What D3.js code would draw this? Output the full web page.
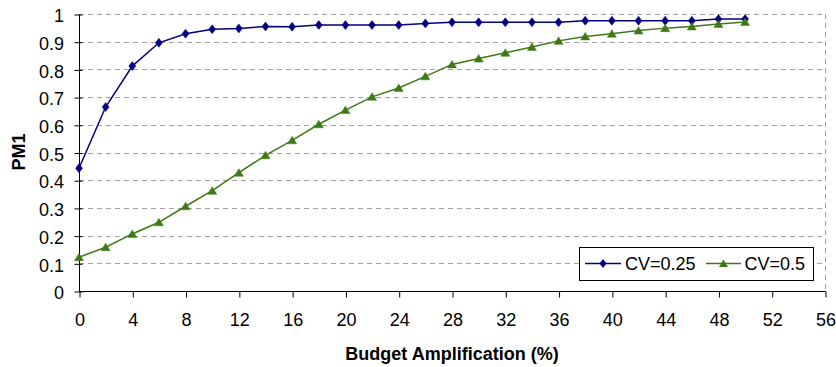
<!DOCTYPE html>
<html>
<head>
<meta charset="utf-8">
<script src="https://cdn.jsdelivr.net/npm/d3@7"></script>
<style>
  html, body { margin: 0; padding: 0; background: #fff; }
  svg { display: block; font-family: "Liberation Sans", Arial, sans-serif; }
</style>
</head>
<body>
<svg id="chart" width="836" height="367"></svg>
<script>
const budgetAmplification = [0, 2, 4, 6, 8, 10, 12, 14, 16, 18, 20, 22, 24, 26, 28, 30, 32, 34, 36, 38, 40, 42, 44, 46, 48, 50];
const cv025 = [0.443, 0.664, 0.812, 0.896, 0.929, 0.945, 0.948, 0.955, 0.954, 0.960, 0.960, 0.960, 0.960, 0.966, 0.970, 0.970, 0.970, 0.970, 0.970, 0.976, 0.976, 0.976, 0.976, 0.976, 0.982, 0.982];
const cv05 = [0.122, 0.158, 0.206, 0.248, 0.306, 0.362, 0.427, 0.490, 0.544, 0.602, 0.653, 0.701, 0.733, 0.775, 0.818, 0.839, 0.860, 0.881, 0.903, 0.919, 0.929, 0.940, 0.949, 0.955, 0.964, 0.971];
const seriesNames = ["CV=0.25", "CV=0.5"];
const xTicks = [0, 4, 8, 12, 16, 20, 24, 28, 32, 36, 40, 44, 48, 52, 56];
const yTicks = [0, 0.1, 0.2, 0.3, 0.4, 0.5, 0.6, 0.7, 0.8, 0.9, 1];
const xTitle = "Budget Amplification (%)";
const yTitle = "PM1";

(function () {
const svg = d3.select("#chart");
const pLeft = 79, pRight = 825, pTop = 14, pBottom = 291;
const x = d3.scaleLinear().domain([0, 56]).range([pLeft, pRight]);
const y = d3.scaleLinear().domain([0, 1]).range([pBottom, pTop]);

const blue = "#000080";
const green = "#3d7a14";
const gridColor = "#a0a0a0";
const fontSize = 18;

// gridlines
svg.append("g").selectAll("line").data(yTicks.filter(d => d > 0)).join("line")
  .attr("x1", pLeft).attr("x2", pRight)
  .attr("y1", d => Math.round(y(d)) + 0.5).attr("y2", d => Math.round(y(d)) + 0.5)
  .attr("stroke", gridColor).attr("stroke-width", 1).attr("stroke-dasharray", "5,4");
// right dashed border
svg.append("line")
  .attr("x1", pRight + 0.5).attr("x2", pRight + 0.5)
  .attr("y1", Math.round(y(1))).attr("y2", pBottom)
  .attr("stroke", gridColor).attr("stroke-width", 1).attr("stroke-dasharray", "5,4");

// y axis
const yAxis = d3.axisLeft(y).tickValues(yTicks).tickFormat(d3.format("~g")).tickSize(6).tickPadding(10);
const gy = svg.append("g").attr("transform", `translate(${pLeft + 0.5},0.5)`).call(yAxis);
gy.select(".domain").attr("stroke", "#000").attr("d", `M0,${Math.round(y(1))}V${pBottom}`);
gy.selectAll(".tick line").attr("stroke", "#000").attr("x1", 3).attr("x2", -5);
gy.selectAll(".tick text").attr("font-size", fontSize).attr("fill", "#000")
  .attr("font-family", "Liberation Sans, Arial, sans-serif").attr("x", -15.5).attr("dy", "0.4em");

// x axis
const xAxis = d3.axisBottom(x).tickValues(xTicks).tickFormat(d3.format("d")).tickSize(6).tickPadding(16);
const gx = svg.append("g").attr("transform", `translate(0.5,${pBottom + 0.5})`).call(xAxis);
gx.select(".domain").attr("stroke", "#000").attr("d", `M${pLeft},0H${pRight}`);
gx.selectAll(".tick line").attr("stroke", "#000");
gx.selectAll(".tick text").attr("font-size", fontSize).attr("fill", "#000")
  .attr("font-family", "Liberation Sans, Arial, sans-serif");

// titles
svg.append("text").attr("x", (pLeft + pRight) / 2).attr("y", 359.5)
  .attr("text-anchor", "middle").attr("font-size", fontSize).attr("font-weight", "bold")
  .text(xTitle);
svg.append("text").attr("transform", `translate(25,152) rotate(-90)`)
  .attr("text-anchor", "middle").attr("font-size", fontSize).attr("font-weight", "bold")
  .text(yTitle);

const diamond = "M0,-4.5L3.5,0L0,4.5L-3.5,0Z";
const triangle = "M0,-4L4.5,3.5L-4.5,3.5Z";

const series = [
  { name: seriesNames[0], values: cv025, color: blue, marker: diamond },
  { name: seriesNames[1], values: cv05, color: green, marker: triangle }
];

const line = d3.line().x(d => x(d[0])).y(d => y(d[1]));

series.forEach(s => {
  const pts = budgetAmplification.map((b, i) => [b, s.values[i]]);
  const g = svg.append("g");
  g.append("path").datum(pts).attr("d", line)
    .attr("fill", "none").attr("stroke", s.color).attr("stroke-width", 1.5);
  g.selectAll("path.m").data(pts).join("path").attr("class", "m")
    .attr("transform", d => `translate(${x(d[0])},${y(d[1])})`)
    .attr("d", s.marker).attr("fill", s.color).attr("stroke", s.color).attr("stroke-width", 0.5);
});

// legend
const lg = svg.append("g");
lg.append("rect").attr("x", 579.5).attr("y", 247.5).attr("width", 234).attr("height", 33)
  .attr("fill", "#fff").attr("stroke", "#000").attr("stroke-width", 1);
const legendItems = [
  { s: series[0], x0: 585, x1: 621, tx: 625 },
  { s: series[1], x0: 706, x1: 741, tx: 744.5 }
];
const ly = 263.5;
legendItems.forEach(it => {
  lg.append("line").attr("x1", it.x0).attr("x2", it.x1).attr("y1", ly).attr("y2", ly)
    .attr("stroke", it.s.color).attr("stroke-width", 1.5);
  lg.append("path").attr("transform", `translate(${(it.x0 + it.x1) / 2},${ly})`)
    .attr("d", it.s.marker).attr("fill", it.s.color);
  lg.append("text").attr("x", it.tx).attr("y", ly + 6.5).attr("font-size", fontSize)
    .attr("fill", "#000").text(it.s.name);
});
})();
</script>
</body>
</html>
